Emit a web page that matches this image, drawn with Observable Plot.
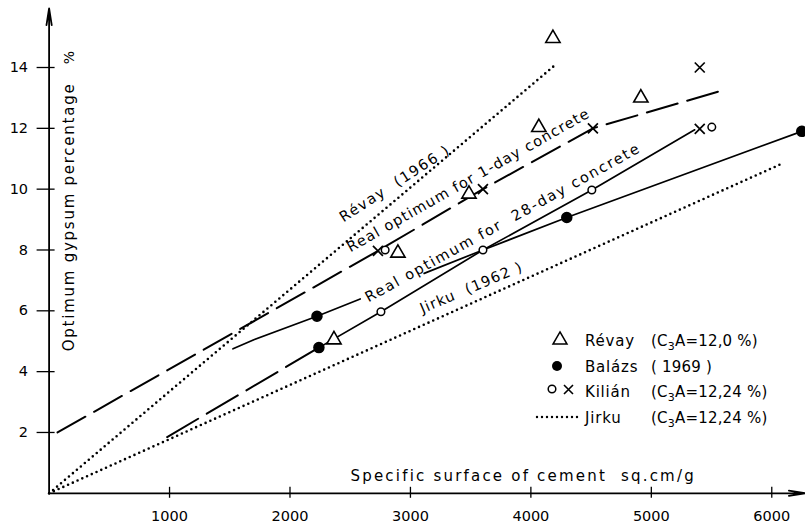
<!DOCTYPE html>
<html><head><meta charset="utf-8">
<script src="https://cdn.jsdelivr.net/npm/d3@7"></script>
<script src="https://cdn.jsdelivr.net/npm/@observablehq/plot@0.6"></script>
<style>
body{margin:0;background:#fff;}
#wrap{position:relative;width:805px;height:523px;}
svg text{white-space:pre;}
#legend{position:absolute;left:0;top:0;pointer-events:none;}
</style></head><body><div id="wrap"></div>
<script>
// ---- data ----
const xTicks = [1000, 2000, 3000, 4000, 5000, 6000];
const yTicks = [2, 4, 6, 8, 10, 12, 14];

// Révay triangles
const revayX = [2365, 2896, 3486, 4066, 4183, 4913];
const revayY = [5.05, 7.9, 9.84, 12.03, 14.96, 13.0];
// Balázs (1969) filled dots
const balazsX = [2224, 2240, 4298, 6249];
const balazsY = [5.82, 4.79, 9.07, 11.9];
// Kilián open circles and crosses
const kilianCircleX = [2755, 2790, 3602, 4506, 5502];
const kilianCircleY = [5.97, 8.0, 8.0, 9.97, 12.04];
const kilianCrossX = [2730, 3602, 4515, 5402, 5402];
const kilianCrossY = [7.97, 10.0, 12.0, 14.0, 11.98];

// Lines
const revay1966X = [0, 4207];
const revay1966Y = [0, 14.1];
const jirku1962X = [0, 6091];
const jirku1962Y = [0, 10.85];
const oneDayX = [70, 2730, 3602, 4515, 5593];
const oneDayY = [2.0, 7.97, 10.0, 12.0, 13.25];
const day28DashX = [980, 2240];
const day28DashY = [1.85, 4.79];
const day28SolidX = [2240, 2755, 3602, 4506, 5360];
const day28SolidY = [4.79, 5.97, 8.0, 9.97, 11.95];
const balazsLineAX = [1527, 1700, 2224, 2583];
const balazsLineAY = [4.75, 5.05, 5.82, 6.39];
const balazsLineBX = [3114, 3602, 4298, 6249];
const balazsLineBY = [7.23, 8.0, 9.07, 11.9];

// Curve labels (anchor = start of baseline, in data units)
const labelText = ["Révay  (1966 )", "Real optimum for 1-day concrete", "Real optimum for  28-day concrete", "Jirku  (1962 )"];
const labelX = [2444, 2502, 2652, 3100];
const labelY = [8.90, 7.92, 6.27, 5.91];
const labelAngle = [-33, -29.5, -29, -23];

const yTitle = "Optimum gypsum percentage";
const xTitle = "Specific surface of cement  sq.cm/g";

const legendNames = ["Révay", "Balázs", "Kilián", "Jirku"];

// ---- helpers ----
const pts = (X, Y) => X.map((x, i) => ({x, y: Y[i]}));
const xMax = 6280, yMax = 15.94;

const labelMarks = labelText.map((t, i) =>
  Plot.text([{x: labelX[i], y: labelY[i], t}], {
    x: "x", y: "y", text: "t", rotate: labelAngle[i],
    textAnchor: "start", lineAnchor: "bottom", fontSize: 14.5, fill: "black"
  }));

const lineOpts = {x: "x", y: "y", stroke: "black"};
const fmt = d3.format("d");

const chart = Plot.plot({
  width: 805, height: 523,
  marginLeft: 48.6, marginRight: 0, marginTop: 8, marginBottom: 30.2,
  x: {domain: [0, xMax], label: null},
  y: {domain: [0, yMax], label: null},
  style: {fontFamily: "DejaVu Sans", fontSize: "14px", color: "black", background: "white"},
  marks: [
    Plot.axisY({ticks: yTicks, tickSize: 18, dx: 6, text: null, label: null, strokeWidth: 1.3}),
    Plot.axisY({ticks: yTicks, tickSize: 0, tickPadding: 21, label: null, fontSize: 14.5, tickFormat: fmt}),
    Plot.axisX({ticks: xTicks, tickSize: 11, dy: -6, text: null, label: null, strokeWidth: 1.3}),
    Plot.axisX({ticks: xTicks, tickSize: 0, tickPadding: 17, label: null, fontSize: 14.5, tickFormat: fmt}),
    Plot.arrow([0], {x1: 0, y1: 0, x2: 0, y2: yMax, headLength: 14, headAngle: 18, strokeWidth: 1.8, stroke: "black"}),
    Plot.arrow([0], {x1: 0, y1: 0, x2: xMax, y2: 0, headLength: 14, headAngle: 18, strokeWidth: 1.8, stroke: "black"}),

    Plot.line(pts(revay1966X, revay1966Y), {...lineOpts, strokeWidth: 2.6, strokeDasharray: "0,5.2", strokeLinecap: "round"}),
    Plot.line(pts(jirku1962X, jirku1962Y), {...lineOpts, strokeWidth: 2.6, strokeDasharray: "0,5.2", strokeLinecap: "round"}),
    Plot.line(pts(oneDayX, oneDayY), {...lineOpts, strokeWidth: 2, strokeDasharray: "32,10"}),
    Plot.line(pts(day28DashX, day28DashY), {...lineOpts, strokeWidth: 2, strokeDasharray: "36,10"}),
    Plot.line(pts(day28SolidX, day28SolidY), {...lineOpts, strokeWidth: 1.7}),
    Plot.line(pts(balazsLineAX, balazsLineAY), {...lineOpts, strokeWidth: 1.7}),
    Plot.line(pts(balazsLineBX, balazsLineBY), {...lineOpts, strokeWidth: 1.7}),

    Plot.dot(pts(revayX, revayY), {x: "x", y: "y", symbol: "triangle", r: 5.3, fill: "white", stroke: "black", strokeWidth: 1.6}),
    Plot.dot(pts(balazsX, balazsY), {x: "x", y: "y", r: 5, fill: "black", stroke: "black"}),
    Plot.dot(pts(kilianCircleX, kilianCircleY), {x: "x", y: "y", r: 3.8, fill: "white", stroke: "black", strokeWidth: 1.5}),
    Plot.dot(pts(kilianCrossX, kilianCrossY), {x: "x", y: "y", symbol: "times", r: 4.6, stroke: "black", strokeWidth: 1.7}),

    ...labelMarks,

    Plot.text([yTitle], {frameAnchor: "left", rotate: -90, textAnchor: "middle", lineAnchor: "bottom", dx: 24.4, dy: -34, fontSize: 15, fill: "black"}),
    Plot.text(["%"], {frameAnchor: "top-left", rotate: -90, textAnchor: "middle", lineAnchor: "bottom", dx: 24.4, dy: 49, fontSize: 14, fill: "black"}),
    Plot.text([xTitle], {frameAnchor: "bottom-left", textAnchor: "start", lineAnchor: "bottom", dx: 301.4, dy: -12.8, fontSize: 15, fill: "black"})
  ]
});

const spacing = {};
spacing[labelText[0]] = 1.6;
spacing[labelText[1]] = 1.2;
spacing[labelText[2]] = 1.8;
spacing[labelText[3]] = 1.2;
spacing[yTitle] = 1.75;
spacing[xTitle] = 2.2;
d3.select(chart).selectAll("text").each(function () {
  const s = spacing[this.textContent];
  if (s != null) this.setAttribute("letter-spacing", s);
});

const wrap = document.getElementById("wrap");
wrap.appendChild(chart);

// ---- legend overlay ----
const legendParams = ["(C<tspan dy='4' font-size='11'>3</tspan><tspan dy='-4'>A=12,0 %)</tspan>",
                      "( 1969 )",
                      "(C<tspan dy='4' font-size='11'>3</tspan><tspan dy='-4'>A=12,24 %)</tspan>",
                      "(C<tspan dy='4' font-size='11'>3</tspan><tspan dy='-4'>A=12,24 %)</tspan>"];
const rowY = [340, 366, 391, 417];
const tri = (cx, cy, s) => { const h = s * Math.sqrt(3) / 2; return `M${cx},${cy - 2*h/3}L${cx + s/2},${cy + h/3}L${cx - s/2},${cy + h/3}Z`; };
let leg = `<svg id="legend" width="805" height="523" font-family="DejaVu Sans" font-size="15" fill="black">`;
leg += `<path d="${tri(560, rowY[0], 14)}" fill="white" stroke="black" stroke-width="1.5"/>`;
leg += `<circle cx="557" cy="${rowY[1]}" r="5" fill="black"/>`;
leg += `<circle cx="552" cy="${rowY[2] - 2}" r="3.8" fill="white" stroke="black" stroke-width="1.5"/>`;
leg += `<path d="M564,${rowY[2]-6}l9,9M573,${rowY[2]-6}l-9,9" stroke="black" stroke-width="1.6"/>`;
leg += `<line x1="537" x2="579" y1="${rowY[3]}" y2="${rowY[3]}" stroke="black" stroke-width="2.4" stroke-dasharray="0,5" stroke-linecap="round"/>`;
legendNames.forEach((n, i) => {
  leg += `<text x="585" y="${rowY[i] + 5.5}" letter-spacing="0.8">${n}</text>`;
  leg += `<text x="651" y="${rowY[i] + 5.5}" letter-spacing="0.2">${legendParams[i]}</text>`;
});
leg += `</svg>`;
wrap.insertAdjacentHTML("beforeend", leg);
</script>
</body></html>
